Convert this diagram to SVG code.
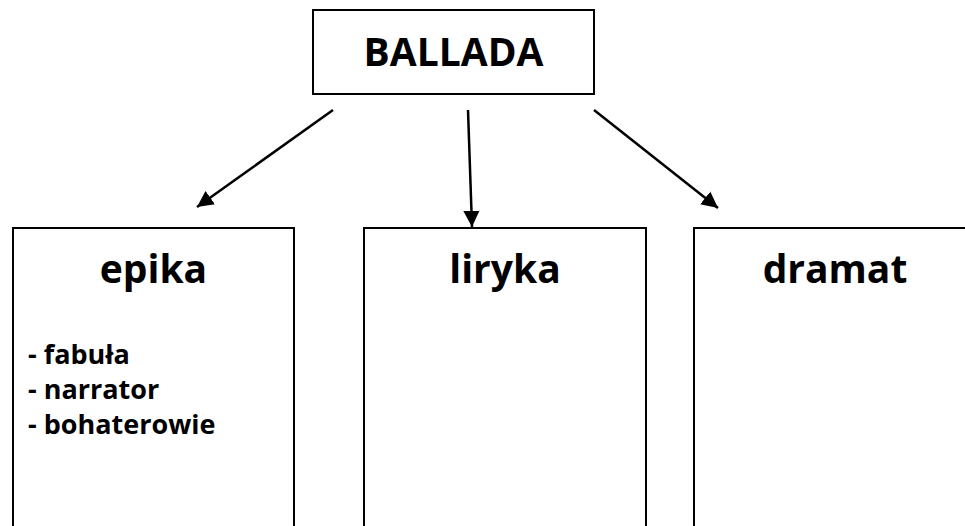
<svg xmlns="http://www.w3.org/2000/svg" width="965" height="526" viewBox="0 0 965 526">
<defs>
<style>
.box{fill:#fff;stroke:#000;stroke-width:2}
.t{font-family:"Open Sans",Lato,"Liberation Sans",sans-serif;font-weight:bold;fill:#000}
.h{font-size:39px;text-anchor:middle}
.li{font-size:27px}
.c{stroke:#000;stroke-width:2.5;fill:none;marker-end:url(#ah)}
</style>
<marker id="ah" viewBox="0 0 10 10" refX="10" refY="5" markerWidth="6.5" markerHeight="7" orient="auto" markerUnits="strokeWidth">
<path d="M0,0 L10,5 L0,10 z" fill="#000"/>
</marker>
</defs>
<rect width="965" height="526" fill="#fff"/>
<g id="connectors">
<line class="c" x1="333" y1="110" x2="197" y2="207"/>
<line class="c" x1="468" y1="110" x2="472" y2="227"/>
<line class="c" x1="594" y1="110" x2="718" y2="208"/>
</g>
<g id="ballada">
<rect class="box" x="313" y="10" width="281" height="84"/>
<text class="t" x="453.5" y="66" font-size="39" text-anchor="middle">BALLADA</text>
</g>
<g id="epika">
<rect class="box" x="13" y="228" width="281" height="310"/>
<text class="t h" x="153.5" y="283">epika</text>
<text class="t li" x="28" y="364">- fabuła</text>
<text class="t li" x="28" y="399">- narrator</text>
<text class="t li" x="28" y="434">- bohaterowie</text>
</g>
<g id="liryka">
<rect class="box" x="364" y="228" width="282" height="310"/>
<text class="t h" x="505" y="283">liryka</text>
</g>
<g id="dramat">
<rect class="box" x="694" y="228" width="282" height="310"/>
<text class="t h" x="835" y="283">dramat</text>
</g>
</svg>
